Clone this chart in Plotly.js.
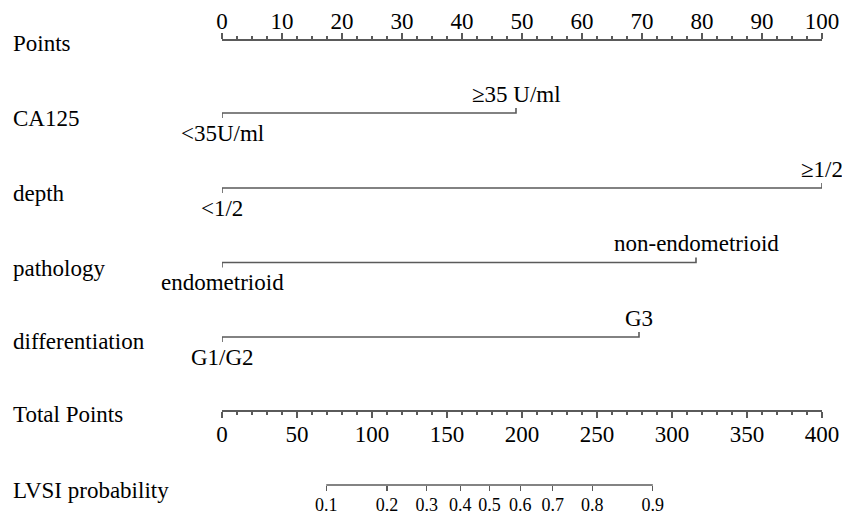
<!DOCTYPE html>
<html>
<head>
<meta charset="utf-8">
<script src="https://cdn.plot.ly/plotly-3.0.1.min.js"></script>
<style>html,body{margin:0;padding:0;background:#fff;}</style>
</head>
<body>
<div id="chart" style="width:842px;height:515px;"></div>
<script>
// ---- data ----
const pointsTicks = [0, 10, 20, 30, 40, 50, 60, 70, 80, 90, 100];
const totalTicks = [0, 50, 100, 150, 200, 250, 300, 350, 400];
const variables = ["CA125", "depth", "pathology", "differentiation"];
const variablePoints = [49, 100, 79, 69.5];
const lowLabels = ["<35U/ml", "<1/2", "endometrioid", "G1/G2"];
const highLabels = ["\u226535 U/ml", "\u22651/2", "non-endometrioid", "G3"];
const probLabels = ["0.1", "0.2", "0.3", "0.4", "0.5", "0.6", "0.7", "0.8", "0.9"];
const probTotalPoints = [69.5, 110, 136.5, 158.8, 178.3, 198.8, 220.5, 246.8, 287.2];

// ---- layout constants (pixel rows) ----
const H = 515;
const rowPoints = 39, rowTotal = 410, rowProb = 485;
const rowVars = [113, 188, 262.5, 337];
const titleY = {Points: 43, vars: [118, 193, 268, 341], total: 414, prob: 490};
const FONT = '"Liberation Serif", "Times New Roman", serif';
const LC = '#5a5a5a';
const TXT = '#000';

const traces = [];
variables.forEach((v, i) => {
  const r = rowVars[i];
  traces.push({
    type: 'scatter', mode: 'lines', xaxis: 'x', yaxis: 'y',
    x: [0, 0, variablePoints[i], variablePoints[i]],
    y: [r + 5, r, r, r - 5],
    line: {color: LC, width: 1.6}, hoverinfo: 'skip', showlegend: false
  });
});
traces.push({
  type: 'scatter', mode: 'lines', xaxis: 'x3', yaxis: 'y',
  x: [probTotalPoints[0], probTotalPoints[probTotalPoints.length - 1]],
  y: [rowProb, rowProb],
  line: {color: LC, width: 1.6}, hoverinfo: 'skip', showlegend: false
});
traces.push({
  type: 'scatter', mode: 'markers', xaxis: 'x2', yaxis: 'y',
  x: [0], y: [rowTotal], marker: {opacity: 0}, hoverinfo: 'skip', showlegend: false
});

const annotations = [];
function rowTitle(text, y) {
  annotations.push({xref: 'paper', yref: 'y', x: (11 - 222) / 600, y: y, text: text,
    showarrow: false, xanchor: 'left', yanchor: 'middle',
    font: {family: FONT, size: 23, color: TXT}});
}
rowTitle('Points', titleY.Points);
variables.forEach((v, i) => rowTitle(v, titleY.vars[i]));
rowTitle('Total Points', titleY.total);
rowTitle('LVSI probability', titleY.prob);

variables.forEach((v, i) => {
  const r = rowVars[i];
  annotations.push({xref: 'x', yref: 'y', x: 0, y: r + 20, text: lowLabels[i],
    showarrow: false, xanchor: 'center', yanchor: 'middle',
    font: {family: FONT, size: 23, color: TXT}});
  annotations.push({xref: 'x', yref: 'y', x: variablePoints[i], y: r - 19, text: highLabels[i],
    showarrow: false, xanchor: 'center', yanchor: 'middle',
    font: {family: FONT, size: 23, color: TXT}});
});

const baseAxis = {
  showgrid: false, zeroline: false, fixedrange: true,
  showline: true, linecolor: LC, linewidth: 1.6,
  ticks: 'outside', ticklen: 6, tickwidth: 1.4, tickcolor: LC,
  tickfont: {family: FONT, size: 23, color: TXT},
  anchor: 'free', tickmode: 'array'
};

const layout = {
  width: 842, height: 515,
  margin: {l: 222, r: 20, t: 0, b: 0, pad: 0},
  paper_bgcolor: '#fff', plot_bgcolor: '#fff',
  showlegend: false,
  xaxis: Object.assign({}, baseAxis, {
    range: [0, 100], domain: [0, 1], side: 'top', position: 1 - rowPoints / H,
    tickvals: pointsTicks, ticktext: pointsTicks.map(String), ticklabelstandoff: -5,
    minor: {dtick: 2.5, tick0: 0, ticklen: 3, tickwidth: 1.2, tickcolor: LC, ticks: 'outside'}
  }),
  xaxis2: Object.assign({}, baseAxis, {
    range: [0, 400], domain: [0, 1], overlaying: 'x', side: 'bottom', position: 1 - rowTotal / H,
    tickvals: totalTicks, ticktext: totalTicks.map(String), ticklabelstandoff: -3,
    minor: {dtick: 10, tick0: 0, ticklen: 3, tickwidth: 1.2, tickcolor: LC, ticks: 'outside'}
  }),
  xaxis3: Object.assign({}, baseAxis, {
    range: [0, 400], domain: [0, 1], overlaying: 'x', side: 'bottom', position: 1 - rowProb / H,
    showline: false, ticklen: 5,
    tickvals: probTotalPoints, ticktext: probLabels,
    tickfont: {family: FONT, size: 18, color: TXT}, ticklabelstandoff: -2
  }),
  yaxis: {range: [H, 0], domain: [0, 1], visible: false, fixedrange: true},
  annotations: annotations
};

Plotly.newPlot('chart', traces, layout, {displayModeBar: false, staticPlot: true});
</script>
</body>
</html>
